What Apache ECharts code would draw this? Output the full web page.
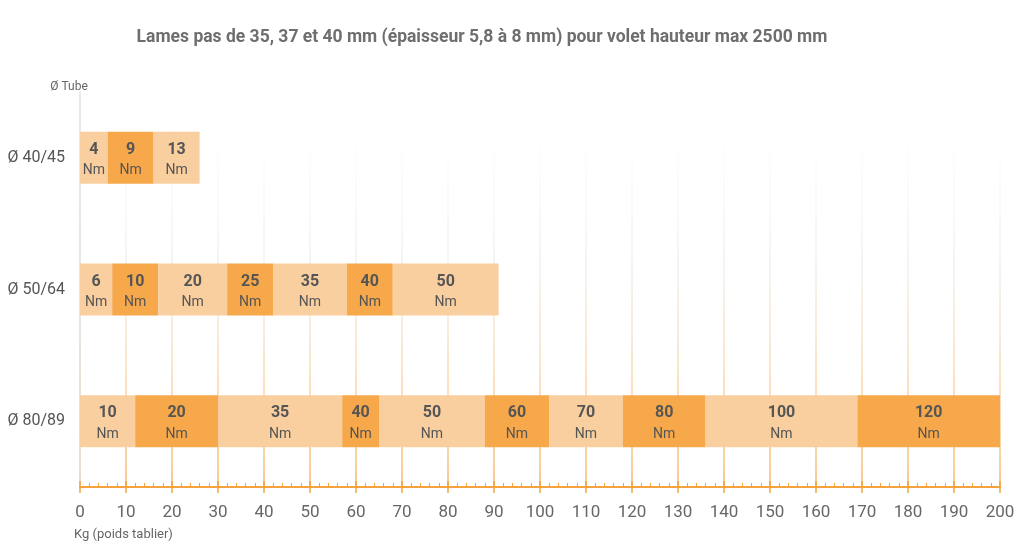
<!DOCTYPE html>
<html>
<head>
<meta charset="utf-8">
<script src="https://cdn.jsdelivr.net/npm/echarts@6/dist/echarts.min.js"></script>
<style>
  html, body { margin: 0; padding: 0; background: #fff; }
  #main { width: 1024px; height: 554px; }
</style>
</head>
<body>
<div id="main"></div>
<script>
// tubes (rows, top to bottom)
const tubes = ['Ø 40/45', 'Ø 50/64', 'Ø 80/89']

// upper limit in kg of every torque band, per tube
const limits4045 = [6, 16, 26]
const limits5064 = [7, 17, 32, 42, 58, 68, 91]
const limits8089 = [12, 30, 57, 65, 88, 102, 118, 136, 169, 200]

// torque of every band in Nm, per tube
const torque4045 = [4, 9, 13]
const torque5064 = [6, 10, 20, 25, 35, 40, 50]
const torque8089 = [10, 20, 35, 40, 50, 60, 70, 80, 100, 120]

const xTicks = { min: 0, max: 200, step: 10 }

const lightColor = '#f9cf9f'
const darkColor = '#f6a84a'
const textColor = '#555'

let limits = [limits4045, limits5064, limits8089]
let torques = [torque4045, torque5064, torque8089]
let maxBands = Math.max(...limits.map(l => l.length))

// one stacked series per band index, widths taken from the limits
let series = []
for (let i = 0; i < maxBands; i++) {
  let data = limits.map((l, row) => {
    if (i >= l.length) return '-'
    let from = i === 0 ? 0 : l[i - 1]
    return { value: l[i] - from, nm: torques[row][i] }
  })
  series.push({
    type: 'bar',
    stack: 'tube',
    barWidth: 52,
    xAxisIndex: 0,
    itemStyle: { color: i % 2 === 0 ? lightColor : darkColor },
    label: {
      show: true,
      position: 'inside',
      offset: [0, 2],
      formatter: p => `{v|${p.data.nm}}\n{u|Nm}`,
      rich: {
        v: { fontFamily: 'Roboto', fontSize: 16, fontWeight: 'bold', color: textColor, lineHeight: 22 },
        u: { fontFamily: 'Roboto', fontSize: 14, color: textColor, lineHeight: 20 }
      }
    },
    emphasis: { disabled: true },
    data
  })
}

// split lines fade out towards the top
let gridFade = new echarts.graphic.LinearGradient(0, 0, 0, 1, [
  { offset: 0, color: 'rgba(255,255,255,0)' },
  { offset: 0.4, color: 'rgba(215,210,205,0.3)' },
  { offset: 0.7, color: 'rgba(247,190,120,0.55)' },
  { offset: 1, color: 'rgba(246,170,80,0.85)' }
])

let chart = echarts.init(document.getElementById('main'), null, { renderer: 'canvas' })
chart.setOption({
  animation: false,
  textStyle: { fontFamily: 'Roboto' },
  title: {
    text: 'Lames pas de 35, 37 et 40 mm (épaisseur 5,8 à 8 mm) pour volet hauteur max 2500 mm',
    left: 477,
    textAlign: 'center',
    top: 24,
    textStyle: { fontFamily: 'Roboto', fontSize: 17.5, fontWeight: 'bold', color: '#6e6e6e' }
  },
  grid: { left: 80, right: 24, top: 92, bottom: 67, containLabel: false },
  xAxis: [{
    type: 'value',
    min: xTicks.min,
    max: xTicks.max,
    interval: xTicks.step,
    name: 'Kg (poids tablier)',
    nameLocation: 'start',
    nameGap: 6,
    nameTextStyle: { fontFamily: 'Roboto', fontSize: 13, color: '#666', align: 'left', verticalAlign: 'top', padding: [41, 0, 0, 0] },
    axisLine: { show: true, lineStyle: { color: '#f5a23c', width: 2 } },
    axisTick: { show: true, inside: true, length: 6, lineStyle: { color: '#f5a23c', width: 1.5 } },
    minorTick: { show: true, splitNumber: 5, length: 4, lineStyle: { color: '#f5a23c', width: 1 } },
    axisLabel: { fontFamily: 'Roboto', fontSize: 17, color: '#666', margin: 17 },
    splitLine: { show: true, lineStyle: { color: gridFade, width: 1.5 } }
  }, {
    type: 'value',
    position: 'bottom',
    min: xTicks.min,
    max: xTicks.max,
    interval: xTicks.step,
    axisLine: { show: false },
    axisTick: { show: true, length: 6, lineStyle: { color: '#f5a23c', width: 1.5 } },
    axisLabel: { show: false },
    splitLine: { show: false }
  }],
  yAxis: {
    type: 'category',
    data: tubes,
    inverse: true,
    name: 'Ø Tube',
    nameLocation: 'start',
    nameGap: -1,
    nameTextStyle: { fontFamily: 'Roboto', fontSize: 12, color: '#666', align: 'center', padding: [0, 22, 0, 0] },
    axisLine: { show: true, lineStyle: { color: '#e2e2e2', width: 1.5 } },
    axisTick: { show: false },
    axisLabel: { fontFamily: 'Roboto', fontSize: 16, color: '#555', margin: 15 },
    splitLine: { show: false }
  },
  series
})
</script>
</body>
</html>
